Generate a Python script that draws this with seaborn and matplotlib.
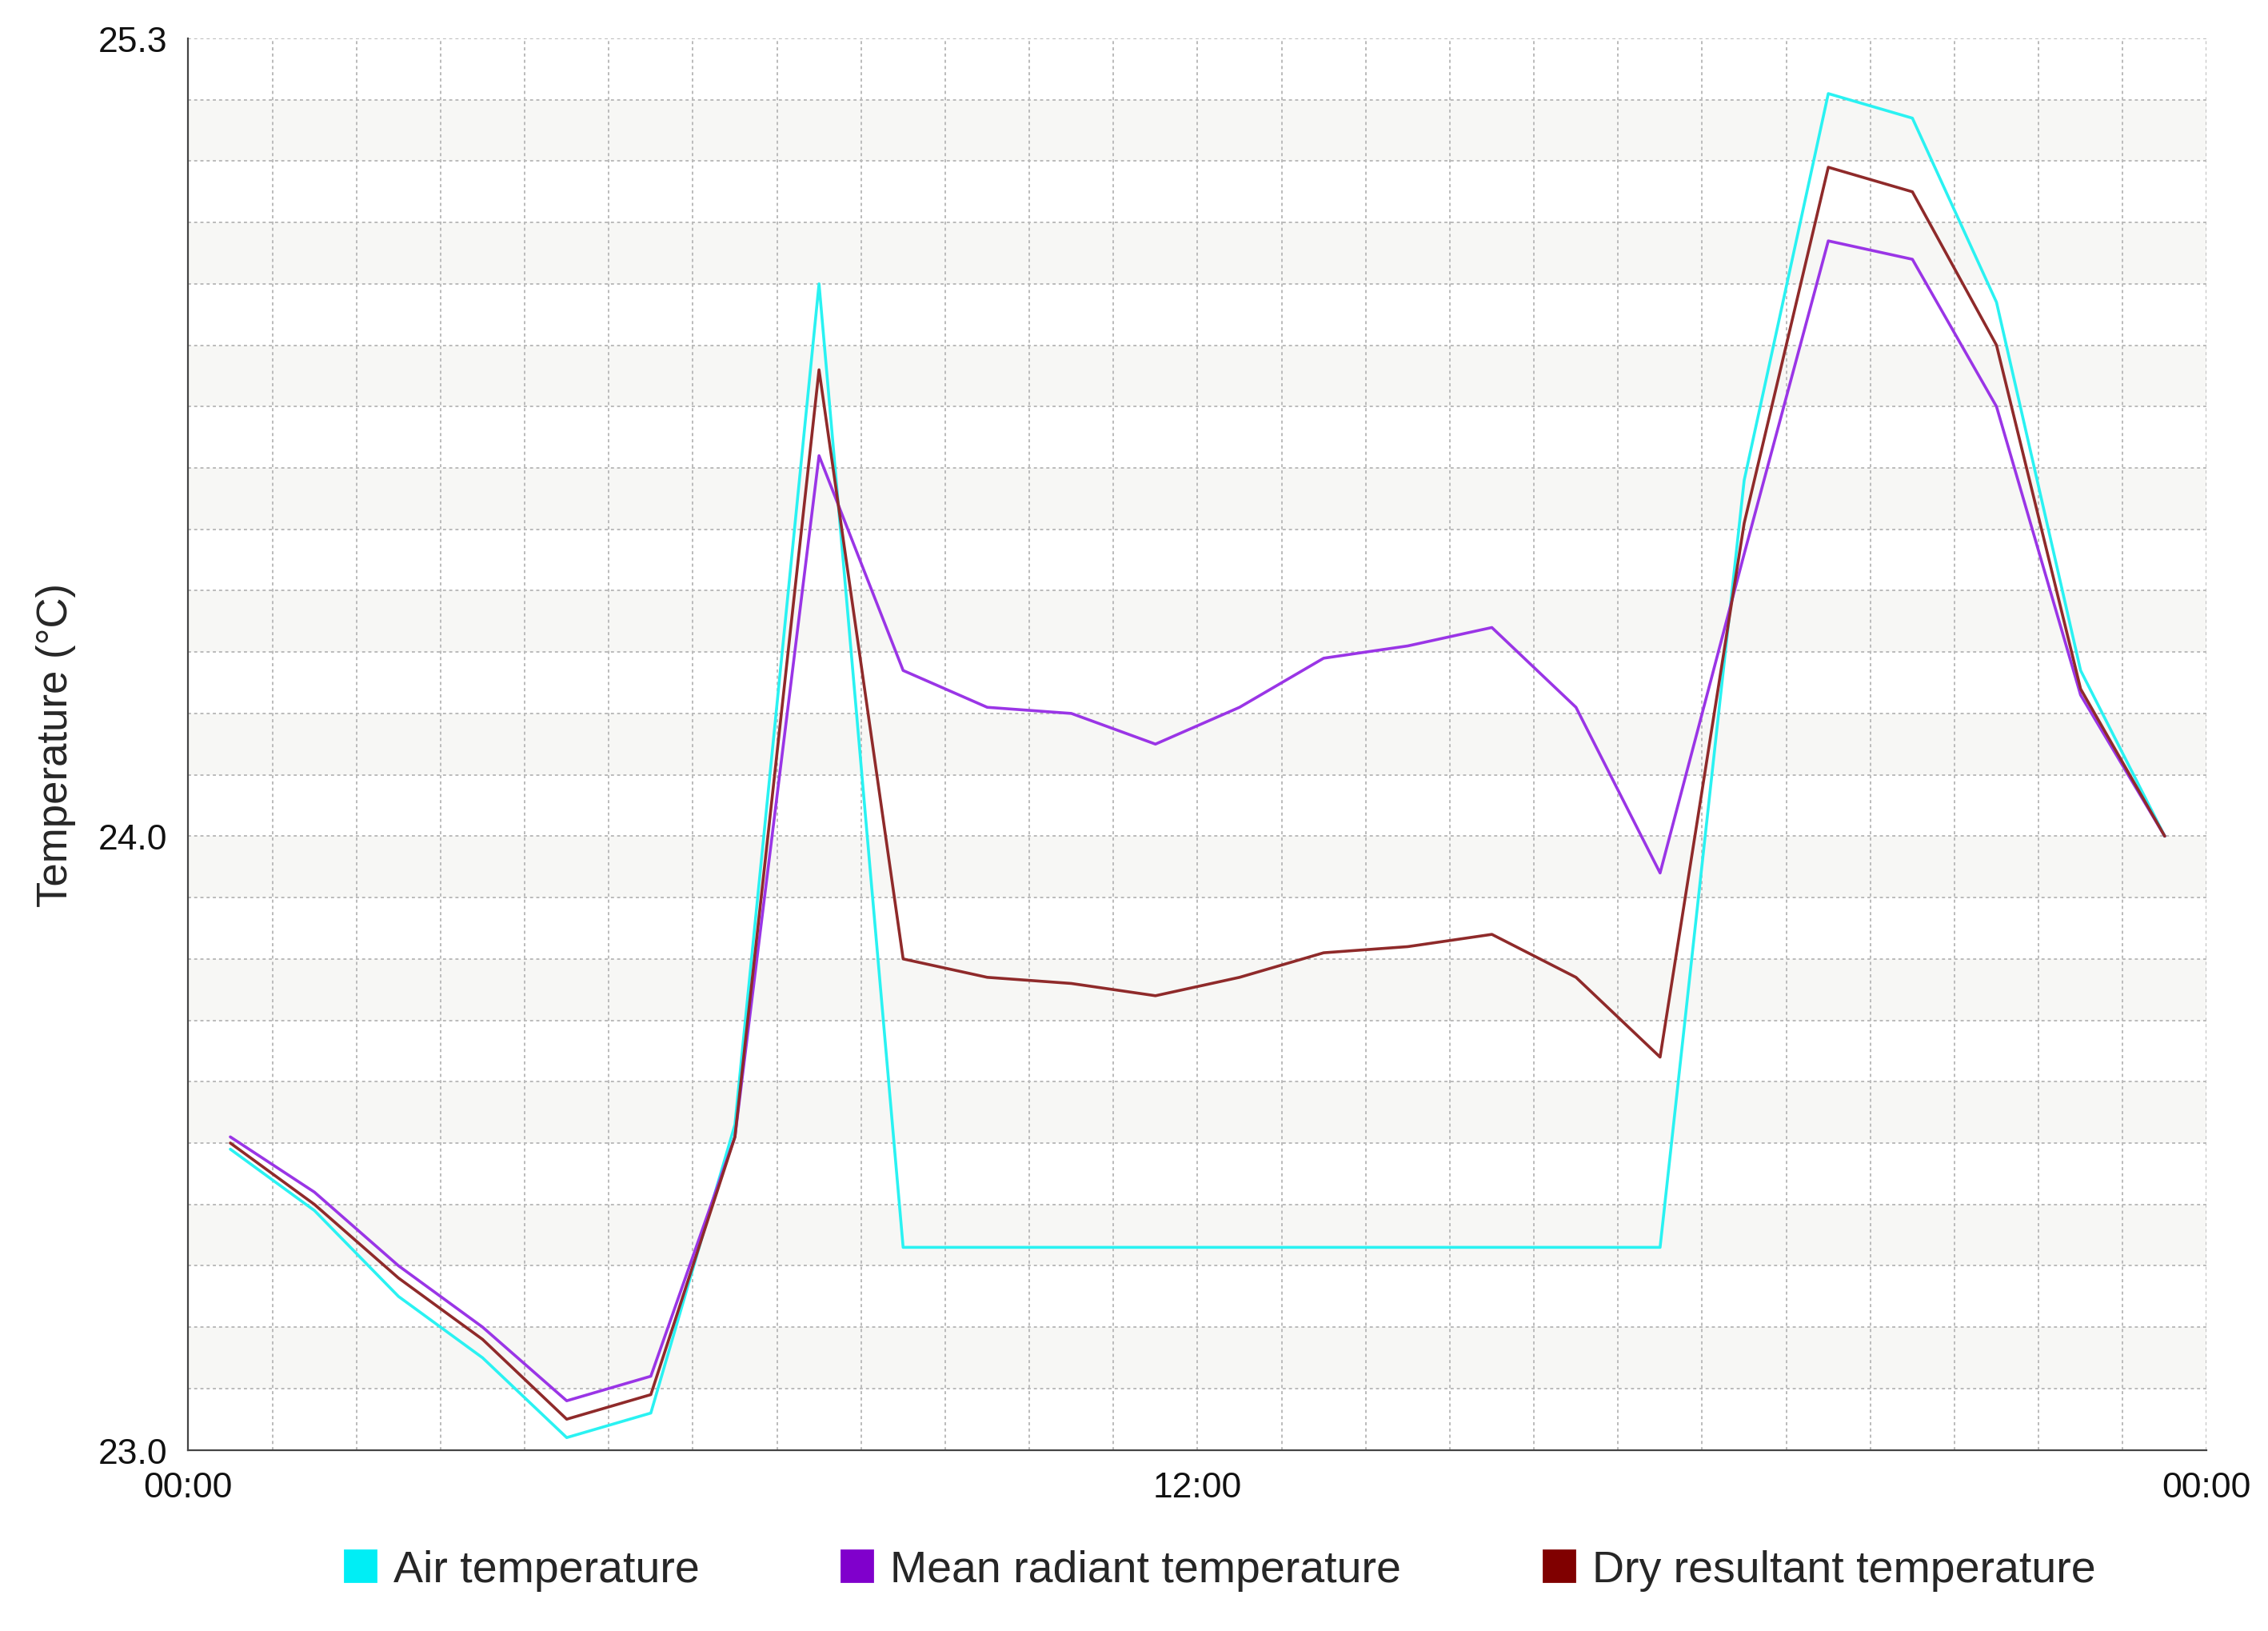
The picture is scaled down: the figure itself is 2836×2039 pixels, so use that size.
import numpy as np
import pandas as pd
import matplotlib
matplotlib.use("Agg")
import matplotlib.pyplot as plt
from matplotlib.patches import Patch
import seaborn as sns

# hourly values, plotted at the half hour
hours = [h + 0.5 for h in range(24)]
air = [23.49, 23.39, 23.25, 23.15, 23.02, 23.06, 23.53, 24.90, 23.33, 23.33,
       23.33, 23.33, 23.33, 23.33, 23.33, 23.33, 23.33, 23.33, 24.58, 25.21,
       25.17, 24.87, 24.27, 24.00]
mrt = [23.51, 23.42, 23.30, 23.20, 23.08, 23.12, 23.51, 24.62, 24.27, 24.21,
       24.20, 24.15, 24.21, 24.29, 24.31, 24.34, 24.21, 23.94, 24.46, 24.97,
       24.94, 24.70, 24.23, 24.00]
dry = [23.50, 23.40, 23.28, 23.18, 23.05, 23.09, 23.51, 24.76, 23.80, 23.77,
       23.76, 23.74, 23.77, 23.81, 23.82, 23.84, 23.77, 23.64, 24.51, 25.09,
       25.05, 24.80, 24.24, 24.00]
names = ["Air temperature", "Mean radiant temperature", "Dry resultant temperature"]
line_colors = ["#2af2f2", "#9a35e6", "#8f2a2a"]
legend_colors = ["#00eef5", "#8000cc", "#800000"]

df = pd.concat([pd.DataFrame({"hour": hours, "temp": v, "series": n})
                for v, n in zip([air, mrt, dry], names)])

sns.set_style("white")
plt.rcParams['font.family'] = ['Liberation Sans', 'DejaVu Sans']

fig = plt.figure(figsize=(14.18, 10.2), dpi=200)
ax = fig.add_axes([0.083, 0.111, 0.89, 0.865])

# alternating background bands
for y0 in np.arange(23.1, 25.3, 0.2):
    ax.axhspan(y0, y0 + 0.1, color="#f7f7f5", zorder=0, lw=0)

sns.lineplot(data=df, x="hour", y="temp", hue="series", palette=line_colors,
             ax=ax, lw=1.3, legend=False, zorder=3)

ax.set_xlim(0, 24)
ax.set_ylim(23.0, 25.3)
ax.set_xticks([0, 12, 24])
ax.set_xticklabels(["00:00", "12:00", "00:00"])
ax.set_xticks(np.arange(0, 25, 1), minor=True)
ax.set_yticks([23.0, 24.0, 25.3])
ax.set_yticklabels(["23.0", "24.0", "25.3"])
ax.set_yticks(np.arange(23.0, 25.31, 0.1), minor=True)
ax.grid(True, which="both", color="#bbbbbb", ls=(0, (2, 2)), lw=0.7)
ax.tick_params(axis="both", which="both", direction="out", length=6,
               color="#555555", labelsize=16, labelcolor="#111111")
ax.tick_params(axis="y", which="minor", length=0)
for s in ["top", "right"]:
    ax.spines[s].set_visible(False)
for s in ["left", "bottom"]:
    ax.spines[s].set_color("#444444")
ax.set_xlabel("")
ax.set_ylabel("Temperature (°C)", fontsize=19, labelpad=10)

handles = [Patch(facecolor=c, edgecolor=c) for c in legend_colors]
fig.legend(handles, names, loc="lower center", ncol=3, frameon=False,
           fontsize=20, bbox_to_anchor=(0.538, 0.0), handlelength=0.7,
           handleheight=0.7, columnspacing=3.2, handletextpad=0.4)

fig.savefig("out.png", dpi=200)
